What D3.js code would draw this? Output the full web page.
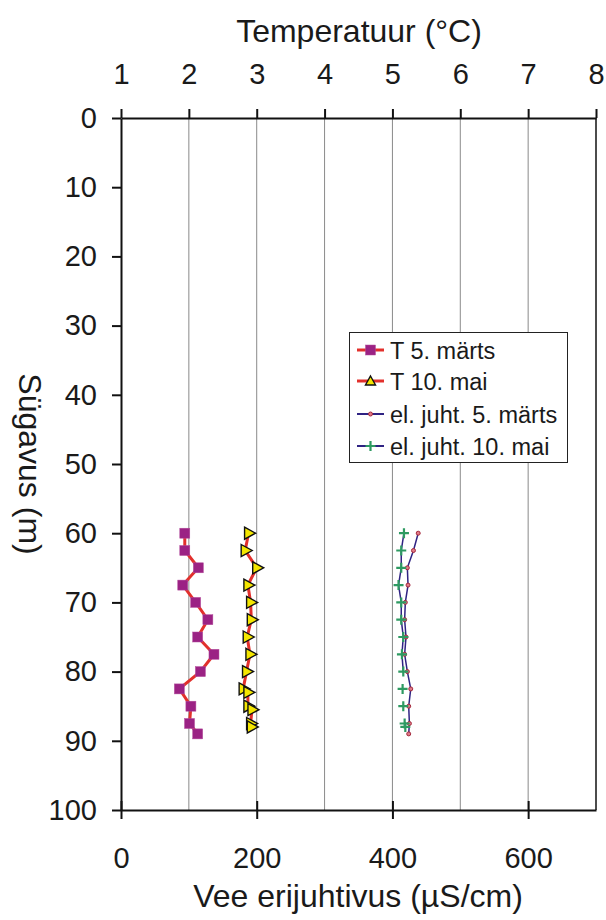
<!DOCTYPE html>
<html>
<head>
<meta charset="utf-8">
<script src="https://cdn.jsdelivr.net/npm/d3@7"></script>
<style>
  body { margin: 0; background: #fff; }
  text { font-family: "Liberation Sans", Arial, sans-serif; fill: #1a1a1a; }
</style>
</head>
<body>
<div class="canvas"></div>
<script>
'use strict';
// depths (m) and readings
var depthMarch = [60, 62.5, 65, 67.5, 70, 72.5, 75, 77.5, 80, 82.5, 85, 87.5, 89];
var tempMarch = [1.94, 1.94, 2.14, 1.91, 2.10, 2.28, 2.13, 2.37, 2.17, 1.86, 2.03, 2.01, 2.13];
var condMarch = [438, 431, 422, 423, 419, 418, 420, 418, 422, 427, 424, 425, 424];

var depthMay = [60, 62.5, 65, 67.5, 70, 72.5, 75, 77.5, 80, 82.5, 83, 85, 85.5, 87.5, 88];
var tempMay = [2.88, 2.83, 3.00, 2.87, 2.91, 2.92, 2.86, 2.90, 2.85, 2.80, 2.87, 2.87, 2.93, 2.91, 2.92];

var depthCondMay = [60, 62.5, 65, 67.5, 70, 72.5, 75, 77.5, 80, null, 82.5, null, 85, null, 87.5, 88];
var condMay = [417, 413, 413, 409, 413, 413, 416, 414, 416, null, 415, null, 416, null, 418, 419];

var tempTicks = [1, 2, 3, 4, 5, 6, 7, 8];
var condTicks = [0, 200, 400, 600];
var gridTicks = [100, 200, 300, 400, 500, 600];
var depthTicks = d3.range(0, 101, 10);
var legendLabels = ['T 5. märts', 'T 10. mai', 'el. juht. 5. märts', 'el. juht. 10. mai'];

var W = 606, H = 920;
var L = 121, R = 596, T = 118, B = 810;

var svg = d3.select('.canvas').append('svg')
    .attr('width', W).attr('height', H);

var x = d3.scaleLinear().domain([0, 700]).range([L, R]);
var xT = d3.scaleLinear().domain([1, 8]).range([L, R]);
var y = d3.scaleLinear().domain([0, 100]).range([T, B]);

// grid
svg.selectAll('.grid').data(gridTicks).enter().append('line')
    .attr('x1', d => x(d)).attr('x2', d => x(d))
    .attr('y1', T).attr('y2', B)
    .attr('stroke', '#8a8a8a').attr('stroke-width', 1);
svg.append('line').attr('x1', R).attr('x2', R).attr('y1', T).attr('y2', B)
    .attr('stroke', '#111').attr('stroke-width', 1.5);

function styleAxis(g) {
    g.select('.domain').attr('stroke', '#111').attr('stroke-width', 2);
    g.selectAll('.tick line').attr('stroke', '#111').attr('stroke-width', 2);
    g.selectAll('.tick text').style('font-size', '29px')
        .style('font-family', '"Liberation Sans", Arial, sans-serif').attr('fill', '#1a1a1a');
}

svg.append('g').attr('transform', 'translate(0,' + T + ')')
    .call(d3.axisTop(xT).tickValues(tempTicks).tickFormat(d3.format('d'))
        .tickSize(9).tickSizeOuter(0).tickPadding(25))
    .call(styleAxis);

svg.append('g').attr('transform', 'translate(' + L + ',0)')
    .call(d3.axisLeft(y).tickValues(depthTicks).tickSize(9).tickSizeOuter(0).tickPadding(15))
    .call(styleAxis);

var bx = svg.append('g').attr('transform', 'translate(0,' + B + ')')
    .call(d3.axisBottom(x).tickValues(condTicks).tickSize(9).tickSizeOuter(0).tickPadding(28))
    .call(styleAxis);
bx.selectAll('.tick line').attr('y1', -9);

// titles
svg.append('text').attr('x', 359).attr('y', 42).attr('text-anchor', 'middle')
    .style('font-size', '32px').text('Temperatuur (°C)');
svg.append('text').attr('x', 358).attr('y', 907).attr('text-anchor', 'middle')
    .style('font-size', '32px').text('Vee erijuhtivus (µS/cm)');
svg.append('text').attr('transform', 'translate(19,' + ((T + B) / 2) + ') rotate(90)')
    .attr('text-anchor', 'middle').style('font-size', '32px').text('Sügavus (m)');

// series
var redLine = '#e2302c', blueLine = '#2f2383';

function pts(xs, ds, sx) {
    return xs.map((v, i) => ({ v: v, d: ds[i], sx: sx }));
}
var line = d3.line().defined(p => p.v != null && p.d != null)
    .x(p => p.sx(p.v)).y(p => y(p.d));

var sMarch = pts(tempMarch, depthMarch, xT);
var sMay = pts(tempMay, depthMay, xT);
var cMarch = pts(condMarch, depthMarch, x);
var cMay = pts(condMay, depthCondMay, x);

svg.append('path').datum(sMarch).attr('d', line)
    .attr('fill', 'none').attr('stroke', redLine).attr('stroke-width', 3);
svg.append('path').datum(sMay).attr('d', line)
    .attr('fill', 'none').attr('stroke', redLine).attr('stroke-width', 3);
svg.append('path').datum(cMarch).attr('d', line)
    .attr('fill', 'none').attr('stroke', blueLine).attr('stroke-width', 1.5);
svg.append('path').datum(cMay).attr('d', line)
    .attr('fill', 'none').attr('stroke', blueLine).attr('stroke-width', 1.5);

function square(g, cx, cy) {
    g.append('rect').attr('x', cx - 5).attr('y', cy - 5).attr('width', 10).attr('height', 10)
        .attr('fill', '#9b2284').attr('stroke', '#b34c9c').attr('stroke-width', 0.5);
}
function tri(g, cx, cy) {
    g.append('path').attr('d', 'M' + (cx - 4) + ',' + (cy - 6) + 'L' + (cx + 7) + ',' + cy + 'L' + (cx - 4) + ',' + (cy + 6) + 'Z')
        .attr('fill', '#f4e600').attr('stroke', '#111').attr('stroke-width', 1.4);
}
function tri2(g, cx, cy) {
    g.append('path').attr('d', 'M' + cx + ',' + (cy - 5) + 'L' + (cx + 5) + ',' + (cy + 4) + 'L' + (cx - 5) + ',' + (cy + 4) + 'Z')
        .attr('fill', '#f4e600').attr('stroke', '#111').attr('stroke-width', 1.4);
}
function dot(g, cx, cy) {
    g.append('circle').attr('cx', cx).attr('cy', cy).attr('r', 2)
        .attr('fill', '#e07a86').attr('stroke', '#a3283c').attr('stroke-width', 1);
}
function plus(g, cx, cy) {
    g.append('path').attr('d', 'M' + (cx - 5) + ',' + cy + 'H' + (cx + 5) + 'M' + cx + ',' + (cy - 5) + 'V' + (cy + 5))
        .attr('stroke', '#2e9a62').attr('stroke-width', 2.2);
}

var mk = svg.append('g');
sMarch.forEach(p => square(mk, p.sx(p.v), y(p.d)));
sMay.forEach(p => tri(mk, p.sx(p.v), y(p.d)));
cMarch.forEach(p => dot(mk, p.sx(p.v), y(p.d)));
cMay.filter(p => p.v != null).forEach(p => plus(mk, p.sx(p.v), y(p.d)));

// legend
var lg = svg.append('g');
lg.append('rect').attr('x', 349.5).attr('y', 332.5).attr('width', 218).attr('height', 130)
    .attr('fill', '#fff').attr('stroke', '#222').attr('stroke-width', 1);
var rowY = [350, 381, 414, 446];
var lineCols = [redLine, redLine, blueLine, blueLine];
var lineW = [3, 3, 2, 2];
var markers = [square, tri2, dot, plus];
legendLabels.forEach((lab, i) => {
    lg.append('line').attr('x1', 357).attr('x2', 384).attr('y1', rowY[i]).attr('y2', rowY[i])
        .attr('stroke', lineCols[i]).attr('stroke-width', lineW[i]);
    markers[i](lg, 370.5, rowY[i]);
    lg.append('text').attr('x', 390).attr('y', rowY[i] + 8.5).style('font-size', '23.5px').text(lab);
});
</script>
</body>
</html>
